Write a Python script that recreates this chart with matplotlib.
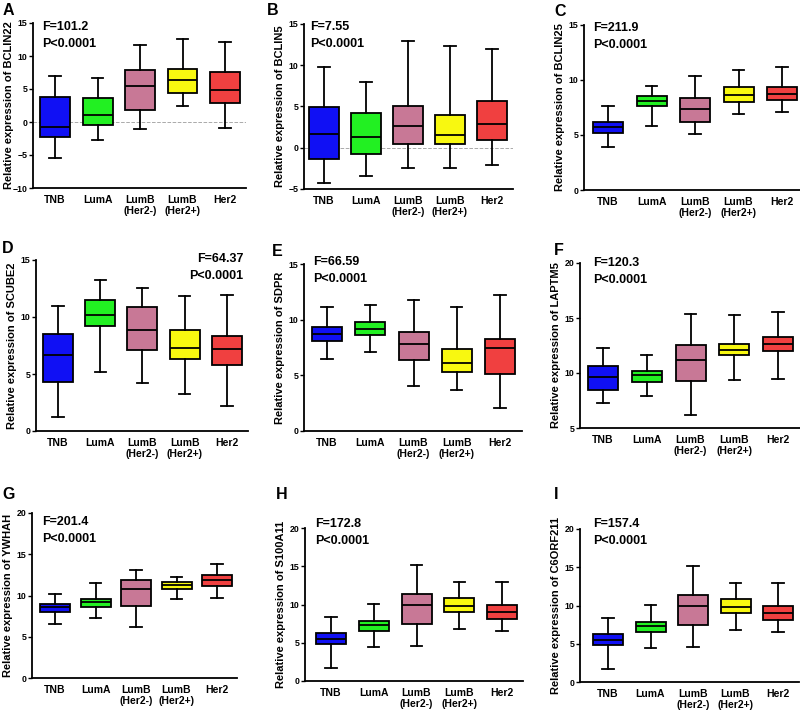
import matplotlib
matplotlib.use("Agg")
import matplotlib.pyplot as plt

plt.rcParams['font.family'] = ['Liberation Sans', 'DejaVu Sans']
plt.rcParams['font.weight'] = 'bold'

W, H = 800, 714

# groups and colours
groups = ['TNB', 'LumA', 'LumB\n(Her2-)', 'LumB\n(Her2+)', 'Her2']
colors = ['#1010f4', '#22f022', '#c87896', '#f8f810', '#f04040']

# box stats per gene: (whislo, q1, med, q3, whishi) for each group
genes = ['BCLIN22', 'BCLIN5', 'BCLIN25', 'SCUBE2', 'SDPR', 'LAPTM5', 'YWHAH', 'S100A11', 'C6ORF211']
bclin22 = [(-5.4, -2.2, -0.8, 3.8, 6.9), (-2.7, -0.5, 1.1, 3.6, 6.7), (-1.1, 1.8, 5.4, 7.9, 11.7),
           (2.4, 4.4, 6.3, 8.0, 12.6), (-0.9, 2.9, 4.9, 7.5, 12.1)]
bclin5 = [(-4.3, -1.4, 1.7, 4.9, 9.8), (-3.4, -0.8, 1.3, 4.2, 8.0), (-2.5, 0.4, 2.6, 5.1, 12.9),
          (-2.4, 0.5, 1.6, 4.0, 12.3), (-2.1, 0.9, 2.9, 5.7, 12.0)]
bclin25 = [(3.9, 5.15, 5.7, 6.2, 7.6), (5.8, 7.6, 8.1, 8.55, 9.45), (5.1, 6.2, 7.35, 8.35, 10.35),
           (6.9, 8.0, 8.6, 9.35, 10.9), (7.1, 8.2, 8.75, 9.4, 11.15)]
scube2 = [(1.25, 4.3, 6.7, 8.5, 10.95), (5.2, 9.25, 10.2, 11.45, 13.25), (4.2, 7.1, 8.9, 10.85, 12.55),
          (3.25, 6.3, 7.3, 8.9, 11.8), (2.2, 5.8, 7.2, 8.35, 11.9)]
sdpr = [(6.5, 8.1, 8.7, 9.3, 11.1), (7.1, 8.65, 9.15, 9.8, 11.3), (4.05, 6.4, 7.8, 8.85, 11.75),
        (3.7, 5.3, 6.1, 7.35, 11.15), (2.1, 5.15, 7.45, 8.25, 12.2)]
laptm5 = [(7.3, 8.5, 9.65, 10.65, 12.3), (7.95, 9.2, 9.8, 10.2, 11.65), (6.2, 9.3, 11.2, 12.55, 15.35),
          (9.4, 11.6, 12.05, 12.6, 15.3), (9.5, 12.0, 12.65, 13.25, 15.55)]
ywhah = [(6.6, 7.95, 8.55, 9.0, 10.15), (7.25, 8.55, 9.2, 9.55, 11.55), (6.15, 8.7, 10.8, 11.9, 13.1),
         (9.6, 10.8, 11.3, 11.65, 12.3), (9.7, 11.1, 11.85, 12.5, 13.8)]
s100a11 = [(1.7, 4.8, 5.5, 6.25, 8.4), (4.4, 6.55, 7.35, 7.9, 10.05), (4.6, 7.45, 9.95, 11.4, 15.1),
           (6.85, 9.05, 9.85, 10.8, 12.95), (6.55, 8.05, 9.05, 9.95, 12.95)]
c6orf211 = [(1.7, 4.8, 5.5, 6.25, 8.4), (4.4, 6.55, 7.35, 7.9, 10.05), (4.6, 7.45, 9.95, 11.4, 15.1),
            (6.85, 9.05, 9.85, 10.8, 12.95), (6.55, 8.05, 9.05, 9.95, 12.95)]
stats = [bclin22, bclin5, bclin25, scube2, sdpr, laptm5, ywhah, s100a11, c6orf211]
f_vals = ['101.2', '7.55', '211.9', '64.37', '66.59', '120.3', '201.4', '172.8', '157.4']
ylims = [(-10, 15), (-5, 15), (0, 15), (0, 15), (0, 15), (5, 20), (0, 20), (0, 20), (0, 20)]
letters = ['A', 'B', 'C', 'D', 'E', 'F', 'G', 'H', 'I']

# panel layout in pixels: spine x, top, bottom, first box x, last box x
layout = [(33, 23, 188, 55, 225), (304, 24, 189, 324, 492), (584, 25, 190, 608, 782),
          (36, 260, 431, 58, 227), (304, 264, 431, 327, 500), (580, 263, 428, 603, 778),
          (32, 513, 678, 55, 217), (305, 528, 681, 331, 502), (580, 529, 682, 608, 778)]
letter_pos = [(3, 3), (267, 3), (554, 4), (2, 241), (272, 244), (554, 243), (2, 487), (276, 487), (554, 487)]
ann_pos = [(42, 21), (310, 21), (593, 22), (243, 253), (313, 256), (593, 257), (42, 516), (315, 518), (593, 518)]

fig = plt.figure(figsize=(W / 100, H / 100), dpi=100)

for k in range(9):
    L, T, B, p1, p5 = layout[k]
    u = (p5 - p1) / 4.0          # px per category
    R = p5 + 0.5 * u
    ax = fig.add_axes([L / W, 1 - B / H, (R - L) / W, (B - T) / H])
    x0 = 1 - (p1 - L) / u
    ax.set_xlim(x0, 5.5)
    ax.set_ylim(*ylims[k])

    bxs = []
    for g, s in enumerate(stats[k]):
        bxs.append(dict(whislo=s[0], q1=s[1], med=s[2], q3=s[3], whishi=s[4], fliers=[], label=groups[g]))
    bw = 30 / u
    art = ax.bxp(bxs, positions=range(1, 6), widths=bw, capwidths=bw * 0.38, patch_artist=True,
                 showfliers=False,
                 boxprops=dict(linewidth=1.3, edgecolor='black'),
                 whiskerprops=dict(linewidth=1.3, color='black'),
                 capprops=dict(linewidth=1.3, color='black'),
                 medianprops=dict(linewidth=1.3, color='black'))
    for patch, c in zip(art['boxes'], colors):
        patch.set_facecolor(c)

    if ylims[k][0] < 0:
        ax.axhline(0, color='#aaaaaa', linestyle='--', linewidth=0.7, zorder=0)

    ax.set_yticks(range(ylims[k][0], ylims[k][1] + 1, 5))
    ax.set_xticks(range(1, 6))
    ax.set_xticklabels(groups, fontsize=7.5, fontweight='bold', linespacing=1.1)
    ax.tick_params(axis='x', length=0, pad=5)
    ax.tick_params(axis='y', labelsize=6.3, width=1, length=3, pad=1)
    for lab in ax.get_yticklabels():
        lab.set_fontweight('bold')
    for sp in ['top', 'right']:
        ax.spines[sp].set_visible(False)
    for sp in ['left', 'bottom']:
        ax.spines[sp].set_linewidth(1.3)

    ax.set_ylabel('Relative expression of ' + genes[k], fontsize=8, fontweight='bold')
    ax.yaxis.set_label_coords(-19 / (R - L), 0.5)

    lx, ly = letter_pos[k]
    fig.text(lx / W, 1 - ly / H, letters[k], fontsize=11.5, fontweight='bold', ha='left', va='top')
    axp, ayp = ann_pos[k]
    ha = 'right' if k == 3 else 'left'
    fig.text(axp / W, 1 - ayp / H, 'F=' + f_vals[k] + '\nP<0.0001', fontsize=9, fontweight='bold',
             ha=ha, va='top', linespacing=1.55)

fig.savefig('out.png', dpi=100)
